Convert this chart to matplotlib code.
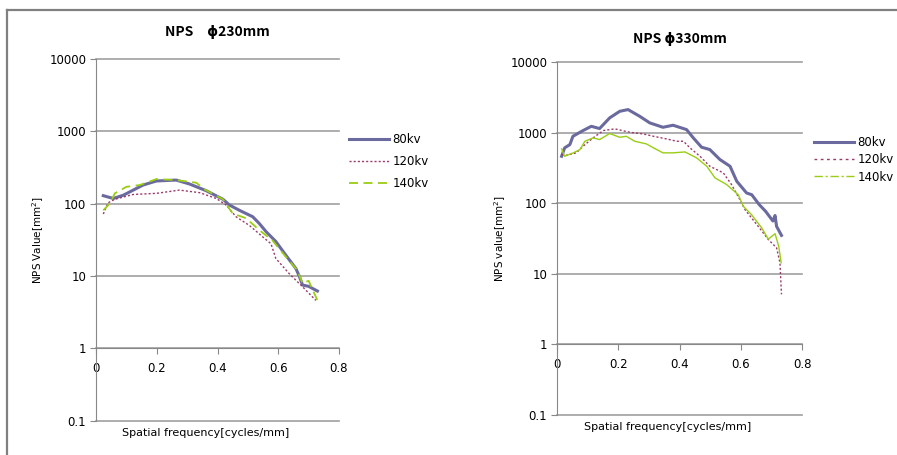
import matplotlib as mpl
import numpy as np

mpl.use('agg')

import matplotlib.pyplot as plt
from matplotlib.lines import Line2D

plt.rcParams['font.family'] = ['DejaVu Sans', 'Noto Sans CJK JP']

# phi 230mm
x230_80 = [0.024, 0.057, 0.09, 0.155, 0.199, 0.264, 0.308, 0.363, 0.418, 0.439, 0.472,
           0.516, 0.538, 0.56, 0.592, 0.625, 0.658, 0.669, 0.68, 0.70, 0.729]
y230_80 = [129, 118, 131, 181, 206, 212, 187, 151, 115, 96, 81,
           66, 53, 41, 30, 19.4, 12.7, 10, 7.5, 7.2, 6.2]
x230_120 = [0.024, 0.04, 0.062, 0.122, 0.199, 0.275, 0.341, 0.396, 0.428, 0.461, 0.505,
            0.548, 0.576, 0.592, 0.636, 0.68, 0.724]
y230_120 = [72, 103, 115, 134, 139, 154, 142, 118, 96, 66, 50,
            35, 28, 17.5, 10.8, 7.1, 4.6]
x230_140 = [0.024, 0.046, 0.062, 0.1, 0.144, 0.199, 0.264, 0.33, 0.357, 0.418, 0.45,
            0.494, 0.538, 0.581, 0.625, 0.663, 0.68, 0.70, 0.729]
y230_140 = [81, 101, 139, 171, 181, 219, 212, 195, 158, 115, 73,
            63, 43, 31, 18.4, 12, 7.9, 8.6, 4.6]

# phi 330mm
x330_80 = [0.015, 0.025, 0.042, 0.052, 0.085, 0.112, 0.139, 0.172, 0.205, 0.232, 0.27,
           0.303, 0.346, 0.379, 0.423, 0.445, 0.472, 0.499, 0.532, 0.565, 0.587, 0.619,
           0.636, 0.66, 0.681, 0.705, 0.712, 0.717, 0.733]
y330_80 = [464, 611, 680, 892, 1075, 1236, 1148, 1627, 2018, 2134, 1714,
           1381, 1197, 1280, 1110, 847, 624, 578, 417, 335, 205, 140,
           132, 96, 77, 56, 67, 47, 35]
x330_120 = [0.015, 0.03, 0.063, 0.085, 0.118, 0.151, 0.189, 0.238, 0.282, 0.315, 0.358,
            0.391, 0.413, 0.434, 0.467, 0.499, 0.543, 0.57, 0.597, 0.614, 0.657, 0.69,
            0.717, 0.728, 0.733]
y330_120 = [490, 480, 519, 644, 847, 1075, 1136, 1016, 963, 892, 818,
            758, 758, 611, 464, 335, 270, 184, 113, 81, 47, 30.6,
            23.3, 14.3, 5.1]
x330_140 = [0.015, 0.025, 0.053, 0.075, 0.091, 0.118, 0.139, 0.172, 0.205, 0.226, 0.254,
            0.292, 0.315, 0.346, 0.379, 0.418, 0.456, 0.489, 0.516, 0.554, 0.592, 0.608,
            0.635, 0.668, 0.69, 0.712, 0.724, 0.732]
y330_140 = [590, 464, 519, 578, 758, 847, 801, 975, 863, 892, 758,
            695, 611, 519, 519, 535, 440, 335, 229, 184, 132, 91,
            69, 45, 31, 37, 24.5, 14.3]

labels = ['80kv', '120kv', '140kv']
xticks = [0, 0.2, 0.4, 0.6, 0.8]
xticklabels = ['0', '0.2', '0.4', '0.6', '0.8']
yticks = [0.1, 1, 10, 100, 1000, 10000]
yticklabels = ['0.1', '1', '10', '100', '1000', '10000']

c80 = '#6a6a9e'
c120 = '#9b3a6a'
c140 = '#9acd14'

fig = plt.figure(figsize=(8.97, 4.55), dpi=100)

# frame
fig.add_artist(Line2D([7 / 897, 7 / 897], [0, 1 - 10 / 455], color='#808080', lw=1.6))
fig.add_artist(Line2D([7 / 897, 1], [1 - 10 / 455, 1 - 10 / 455], color='#808080', lw=1.6))


def setup(ax, title, ylabel, ty):
    ax.set_yscale('log')
    ax.set_xlim(0, 0.8)
    ax.set_ylim(0.1, 10000)
    for s in ['top', 'right']:
        ax.spines[s].set_visible(False)
    ax.spines['left'].set_color('#888888')
    ax.spines['bottom'].set_color('#888888')
    ax.spines['bottom'].set_position(('data', 1))
    for yv in yticks:
        ax.axhline(yv, color='#a0a0a0', lw=1.2, clip_on=False, zorder=0)
    ax.set_yticks(yticks)
    ax.set_yticklabels(yticklabels)
    ax.yaxis.set_minor_locator(mpl.ticker.NullLocator())
    ax.set_xticks(xticks)
    ax.set_xticklabels(xticklabels)
    ax.tick_params(axis='both', direction='out', length=4, color='#888888',
                   labelsize=8.5, pad=3)
    ax.tick_params(axis='x', pad=6)
    ax.set_title(title, fontsize=10, fontweight='bold', y=ty,
                 family=['Noto Sans CJK JP', 'DejaVu Sans'])
    ax.set_ylabel(ylabel, fontsize=7.5, labelpad=2)
    ax.text(0.45, -0.035, 'Spatial frequency[cycles/mm]', transform=ax.transAxes,
            ha='center', va='center', fontsize=8)


ax1 = fig.add_axes([96 / 897, 1 - 420.7 / 455, 243 / 897, 361.7 / 455])
setup(ax1, 'NPS\u3000\u03d5230mm', 'NPS Value[mm$^2$]', 1.04)
ax1.plot(x230_80, y230_80, color=c80, lw=2.2, label=labels[0])
ax1.plot(x230_120, y230_120, color=c120, lw=1.0, ls=(0, (1.5, 1.5)), label=labels[1])
ax1.plot(x230_140, y230_140, color=c140, lw=1.3, ls=(0, (5, 3)), label=labels[2])
ax1.legend(loc='upper left', bbox_to_anchor=(1.01, 0.815), frameon=False, fontsize=8.5,
           handlelength=3.4, handletextpad=0.3, labelspacing=0.75, borderaxespad=0.2)

ax2 = fig.add_axes([557 / 897, 1 - 414.7 / 455, 245 / 897, 352.4 / 455])
setup(ax2, 'NPS \u03d5330mm', 'NPS value[mm$^2$]', 1.03)
ax2.plot(x330_80, y330_80, color=c80, lw=2.2)
ax2.plot(x330_120, y330_120, color=c120, lw=1.0, ls=(0, (1.5, 1.5)))
ax2.plot(x330_140, y330_140, color=c140, lw=1.0)
handles = [Line2D([], [], color=c80, lw=2.2),
           Line2D([], [], color=c120, lw=1.0, ls=(0, (2, 2.5))),
           Line2D([], [], color=c140, lw=1.0, ls=(0, (6, 2, 1.5, 2)))]
ax2.legend(handles, labels, loc='upper left', bbox_to_anchor=(1.02, 0.81), frameon=False,
           fontsize=8.5, handlelength=3.4, handletextpad=0.3, labelspacing=0.35,
           borderaxespad=0.2)

fig.savefig('out.png', dpi=100)
